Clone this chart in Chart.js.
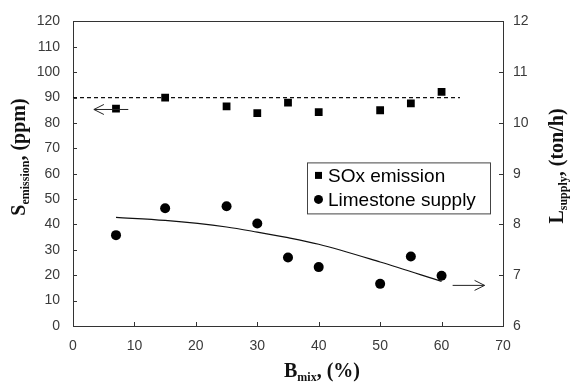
<!DOCTYPE html>
<html>
<head>
<meta charset="utf-8">
<script src="https://cdn.jsdelivr.net/npm/chart.js@4.4.1/dist/chart.umd.min.js"></script>
<style>
  html, body { margin: 0; padding: 0; background: #fff; }
  #wrap { width: 581px; height: 383px; }
</style>
</head>
<body>
<div id="wrap"><canvas id="chart"></canvas></div>
<script>
// Blend ratio (%) and measured values
const bmix = [7, 15, 25, 30, 35, 40, 50, 55, 60];
const soxEmission = [85.6, 90.0, 86.5, 83.9, 88.0, 84.3, 85.0, 87.7, 92.2];      // ppm, left axis
const limestoneSupply = [7.79, 8.32, 8.36, 8.02, 7.35, 7.16, 6.83, 7.37, 6.99];  // ton/h, right axis

// Trend curve for limestone supply
const trendX = [7, 15, 25, 30, 35, 40, 50, 60];
const trendY = [8.14, 8.08, 7.95, 7.85, 7.74, 7.61, 7.26, 6.88];

// Emission limit (dashed)
const limitX = [0, 63];
const limitY = [90, 90];

// Arrows telling which axis each series belongs to
const leftArrow = { x: [9, 3.4], y: 85.3 };   // on the ppm axis
const rightArrow = { x: [61.8, 67], y: 6.8 }; // on the ton/h axis

// Axis ranges
const xRange = [0, 70, 10];
const leftRange = [0, 120, 10];
const rightRange = [6, 12, 1];

const pts = (xs, ys) => xs.map((x, i) => ({ x: x, y: ys[i] }));

const tickFont = { family: "'Liberation Sans', Arial, sans-serif", size: 14 };
const tickColor = '#3a3a3a';
const axisColor = '#333';

// inward tick marks + top frame line
const frame = {
  id: 'frame',
  afterDraw(chart) {
    const ctx = chart.ctx, a = chart.chartArea;
    ctx.save();
    ctx.strokeStyle = axisColor;
    ctx.lineWidth = 1;
    ctx.beginPath();
    ctx.moveTo(a.left, Math.round(a.top) + 0.5);
    ctx.lineTo(a.right, Math.round(a.top) + 0.5);
    const len = 4;
    chart.scales.x.ticks.forEach(t => {
      const p = Math.round(chart.scales.x.getPixelForValue(t.value)) + 0.5;
      ctx.moveTo(p, a.bottom); ctx.lineTo(p, a.bottom - len);
    });
    chart.scales.y.ticks.forEach(t => {
      const p = Math.round(chart.scales.y.getPixelForValue(t.value)) + 0.5;
      ctx.moveTo(a.left, p); ctx.lineTo(a.left + len, p);
    });
    chart.scales.y2.ticks.forEach(t => {
      const p = Math.round(chart.scales.y2.getPixelForValue(t.value)) + 0.5;
      ctx.moveTo(a.right, p); ctx.lineTo(a.right - len, p);
    });
    ctx.stroke();
    ctx.restore();
  }
};

function arrow(ctx, x1, x2, y) {
  const dir = Math.sign(x2 - x1);
  ctx.beginPath();
  ctx.moveTo(x1, y); ctx.lineTo(x2, y);
  ctx.moveTo(x2 - dir * 10, y - 5); ctx.lineTo(x2, y); ctx.lineTo(x2 - dir * 10, y + 5);
  ctx.stroke();
}

const arrows = {
  id: 'arrows',
  afterDatasetsDraw(chart) {
    const ctx = chart.ctx, sx = chart.scales.x;
    ctx.save();
    ctx.strokeStyle = '#222';
    ctx.lineWidth = 1;
    arrow(ctx, sx.getPixelForValue(leftArrow.x[0]), sx.getPixelForValue(leftArrow.x[1]),
      chart.scales.y.getPixelForValue(leftArrow.y));
    arrow(ctx, sx.getPixelForValue(rightArrow.x[0]), sx.getPixelForValue(rightArrow.x[1]),
      chart.scales.y2.getPixelForValue(rightArrow.y));
    ctx.restore();
  }
};

// text with a subscript part, centred on (0,0) of the current transform
function richText(ctx, parts) {
  const fam = "'Liberation Serif', 'Times New Roman', serif";
  let w = 0;
  parts.forEach(p => { ctx.font = 'bold ' + p.size + 'px ' + fam; p.w = ctx.measureText(p.t).width; w += p.w; });
  let x = -w / 2;
  ctx.textBaseline = 'alphabetic';
  ctx.textAlign = 'left';
  parts.forEach(p => {
    ctx.font = 'bold ' + p.size + 'px ' + fam;
    ctx.fillText(p.t, x, p.sub ? 4 : 0);
    x += p.w;
  });
}

const titles = {
  id: 'titles',
  afterDraw(chart) {
    const ctx = chart.ctx;
    ctx.save();
    ctx.fillStyle = '#111';
    ctx.save();
    ctx.translate(25, 157);
    ctx.rotate(-Math.PI / 2);
    richText(ctx, [{ t: 'S', size: 20 }, { t: 'emission', size: 12, sub: true }, { t: ', (ppm)', size: 20 }]);
    ctx.restore();
    ctx.save();
    ctx.translate(563, 166);
    ctx.rotate(-Math.PI / 2);
    richText(ctx, [{ t: 'L', size: 20 }, { t: 'supply', size: 12, sub: true }, { t: ', (ton/h)', size: 20 }]);
    ctx.restore();
    ctx.save();
    ctx.translate(322, 377);
    richText(ctx, [{ t: 'B', size: 20 }, { t: 'mix', size: 12, sub: true }, { t: ', (%)', size: 20 }]);
    ctx.restore();
    ctx.restore();
  }
};

// boxed legend inside the plot
const boxLegend = {
  id: 'boxLegend',
  afterDraw(chart) {
    const ctx = chart.ctx, a = chart.chartArea;
    const left = a.left + 234, top = a.top + 141, w = 183, h = 51;
    ctx.save();
    ctx.fillStyle = '#fff';
    ctx.fillRect(left, top, w, h);
    ctx.strokeStyle = '#444';
    ctx.lineWidth = 1;
    ctx.strokeRect(left + 0.5, top + 0.5, w, h);
    ctx.font = "19px 'Liberation Sans', Arial, sans-serif";
    ctx.textBaseline = 'middle';
    const items = chart.data.datasets.filter(d => d.label);
    items.forEach((d, i) => {
      const cy = top + 13 + i * 24;
      ctx.fillStyle = '#000';
      if (d.pointStyle === 'rect') {
        ctx.fillRect(left + 8, cy - 3.5, 7, 7);
      } else {
        ctx.beginPath(); ctx.arc(left + 11.5, cy, 4.5, 0, Math.PI * 2); ctx.fill();
      }
      ctx.fillText(d.label, left + 21, cy + 1);
    });
    ctx.restore();
  }
};

new Chart(document.getElementById('chart'), {
  type: 'scatter',
  data: {
    datasets: [
      {
        label: 'SOx emission',
        data: pts(bmix, soxEmission),
        yAxisID: 'y',
        pointStyle: 'rect',
        pointRadius: 5.5,
        backgroundColor: '#000',
        borderColor: '#000',
        borderWidth: 0
      },
      {
        label: 'Limestone supply',
        data: pts(bmix, limestoneSupply),
        yAxisID: 'y2',
        pointStyle: 'circle',
        pointRadius: 5,
        backgroundColor: '#000',
        borderColor: '#000',
        borderWidth: 0
      },
      {
        data: pts(trendX, trendY),
        yAxisID: 'y2',
        showLine: true,
        pointRadius: 0,
        borderColor: '#111',
        borderWidth: 1.2,
        cubicInterpolationMode: 'monotone'
      },
      {
        data: pts(limitX, limitY),
        yAxisID: 'y',
        showLine: true,
        pointRadius: 0,
        borderColor: '#111',
        borderWidth: 1.2,
        borderDash: [4, 3]
      }
    ]
  },
  options: {
    responsive: true,
    maintainAspectRatio: false,
    animation: false,
    layout: { padding: { top: 13, left: 0, right: 0, bottom: 0 } },
    plugins: { legend: { display: false }, tooltip: { enabled: false } },
    scales: {
      x: {
        type: 'linear',
        min: xRange[0], max: xRange[1],
        afterFit: s => { s.height = 57; },
        grid: { display: false, drawTicks: false },
        border: { display: true, color: axisColor, width: 1 },
        ticks: { stepSize: xRange[2], padding: 12, color: tickColor, font: tickFont }
      },
      y: {
        position: 'left',
        min: leftRange[0], max: leftRange[1],
        afterFit: s => { s.width = 73; },
        grid: { display: false, drawTicks: false },
        border: { display: true, color: axisColor, width: 1 },
        ticks: { stepSize: leftRange[2], padding: 13, color: tickColor, font: tickFont }
      },
      y2: {
        position: 'right',
        min: rightRange[0], max: rightRange[1],
        afterFit: s => { s.width = 78; },
        grid: { display: false, drawTicks: false },
        border: { display: true, color: axisColor, width: 1 },
        ticks: { stepSize: rightRange[2], padding: 10, color: tickColor, font: tickFont }
      }
    }
  },
  plugins: [frame, arrows, titles, boxLegend]
});
</script>
</body>
</html>
